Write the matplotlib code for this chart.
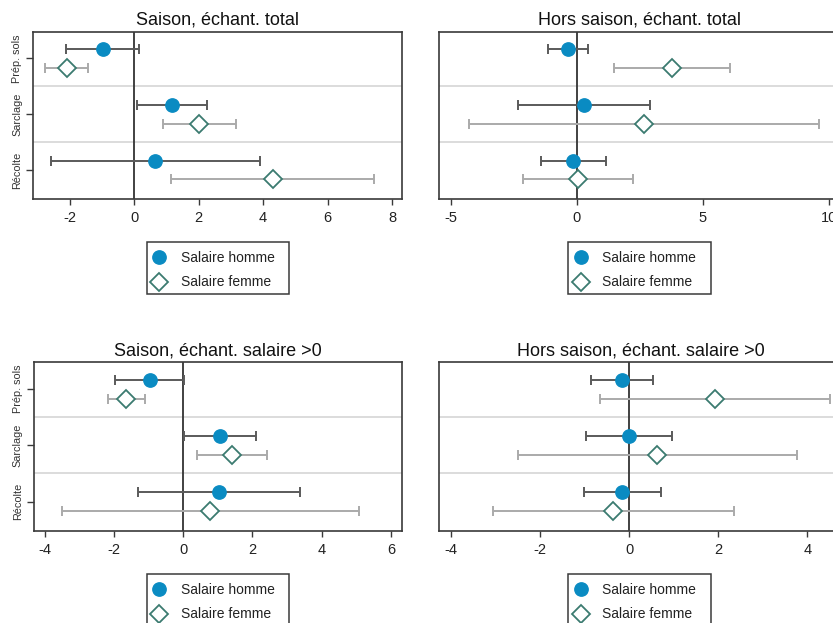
import matplotlib
matplotlib.use("Agg")
import matplotlib.pyplot as plt
from matplotlib.lines import Line2D
from matplotlib.patches import Rectangle
import numpy as np

plt.rcParams['font.family'] = ['Liberation Sans', 'DejaVu Sans']

categories = ["Prép. sols", "Sarclage", "Récolte"]
titles = ["Saison, échant. total", "Hors saison, échant. total",
          "Saison, échant. salaire >0", "Hors saison, échant. salaire >0"]

# coefficient, lower bound, upper bound for each category
homme_est = [[-0.97, 1.17, 0.66], [-0.33, 0.29, -0.13],
             [-0.95, 1.07, 1.04], [-0.16, 0.00, -0.16]]
homme_lo = [[-2.11, 0.10, -2.58], [-1.13, -2.34, -1.42],
            [-1.97, 0.03, -1.30], [-0.86, -0.97, -1.01]]
homme_hi = [[0.15, 2.26, 3.91], [0.46, 2.91, 1.16],
            [0.03, 2.09, 3.38], [0.54, 0.96, 0.70]]

femme_est = [[-2.10, 2.02, 4.30], [3.78, 2.68, 0.05],
             [-1.66, 1.42, 0.77], [1.92, 0.63, -0.37]]
femme_lo = [[-2.77, 0.88, 1.14], [1.48, -4.26, -2.12],
            [-2.18, 0.39, -3.51], [-0.66, -2.51, -3.07]]
femme_hi = [[-1.43, 3.16, 7.44], [6.08, 9.63, 2.22],
            [-1.11, 2.43, 5.09], [4.50, 3.76, 2.35]]

xticks = [[-2, 0, 2, 4, 6, 8], [-5, 0, 5, 10],
          [-4, -2, 0, 2, 4, 6], [-4, -2, 0, 2, 4]]
xlims = [(-3.14, 8.32), (-5.45, 10.45), (-4.32, 6.33), (-4.27, 4.8)]

W, H = 833, 623
fig = plt.figure(figsize=(W / 100, H / 100), dpi=100)

# axes boxes in pixels: left, right, top, bottom
boxes = [(33, 402.3, 31.7, 199), (439.3, 840, 31.7, 199),
         (33.7, 402.3, 362.3, 530.7), (439.3, 843, 362.3, 530.7)]

blue = "#0A8BC2"
teal = "#3B7B70"
dark_ci = "#5A5A5A"
light_ci = "#AAAAAA"
frame = "#3A3A3A"

off = 0.17
ypos = np.arange(len(categories))

for k in range(4):
    l, r, t, b = boxes[k]
    ax = fig.add_axes([l / W, 1 - b / H, (r - l) / W, (b - t) / H])
    ax.set_xlim(*xlims[k])
    ax.set_ylim(2.52, -0.48)
    for s in ax.spines.values():
        s.set_color(frame)
        s.set_linewidth(1.2)
    for yy in [0.5, 1.5]:
        ax.axhline(yy, color="#DCDCDC", lw=1.4, zorder=1)
    ax.axvline(0, color="#333333", lw=1.3, zorder=2)

    he = np.array(homme_est[k]); hl = np.array(homme_lo[k]); hh = np.array(homme_hi[k])
    fe = np.array(femme_est[k]); fl = np.array(femme_lo[k]); fh = np.array(femme_hi[k])

    ax.errorbar(he, ypos - off, xerr=[he - hl, hh - he], fmt="none",
                ecolor=dark_ci, elinewidth=1.4, capsize=3.5, capthick=1.4, zorder=3)
    ax.errorbar(fe, ypos + off, xerr=[fe - fl, fh - fe], fmt="none",
                ecolor=light_ci, elinewidth=1.4, capsize=3.5, capthick=1.4, zorder=3)
    ax.plot(he, ypos - off, "o", color=blue, ms=9.6, mec=blue, zorder=5)
    ax.plot(fe, ypos + off, "D", mfc="white", mec=teal, mew=1.3, ms=8.7, zorder=5)

    ax.set_xticks(xticks[k])
    ax.set_xticklabels([str(v) for v in xticks[k]], fontsize=10.5, color="#222222")
    ax.tick_params(axis="x", direction="out", length=4.5, width=1, color=frame, pad=4)
    if k in (0, 2):
        ax.set_yticks(ypos)
        ax.set_yticklabels(categories, rotation=90, va="center", fontsize=7.8,
                           color="#333333")
        ax.tick_params(axis="y", direction="out", length=4.8, width=1, color=frame, pad=3)
    else:
        ax.set_yticks([])
    ax.set_title(titles[k], fontsize=13, color="#111111", pad=5)

    # legend below each panel: a plain box with the two marker keys inside
    bx = 146.7 if k in (0, 2) else 568.3
    by = 241.7 if k < 2 else 573.8
    fig.patches.append(Rectangle((bx / W, 1 - (by + 52.6) / H), 142.6 / W, 52.6 / H,
                                 transform=fig.transFigure, fill=True, facecolor="white",
                                 edgecolor=frame, linewidth=1.1, zorder=1))
    handles = [Line2D([], [], ls="none", marker="o", color=blue, ms=9.6),
               Line2D([], [], ls="none", marker="D", mfc="white", mec=teal, mew=1.3, ms=8.7)]
    leg = fig.legend(handles, ["Salaire homme", "Salaire femme"],
                     loc="upper left", bbox_to_anchor=((bx + 4.3) / W, 1 - (by + 9) / H),
                     borderaxespad=0, borderpad=0, fontsize=10, frameon=False,
                     handlelength=1.2, handletextpad=0.94, labelspacing=0.77)
    leg.set_zorder(2)
    for txt in leg.get_texts():
        txt.set_color("#222222")

fig.savefig("out.png", dpi=100, facecolor="white")
